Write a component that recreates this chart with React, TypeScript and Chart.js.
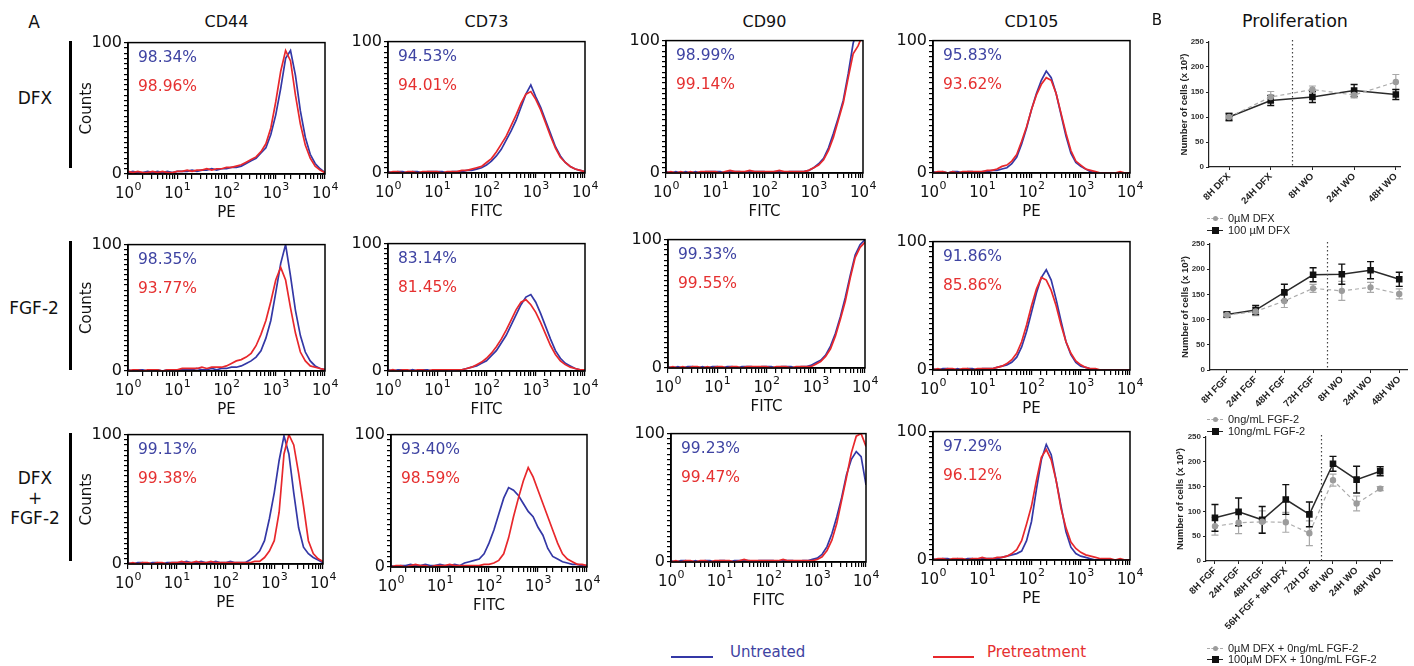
import React, { useEffect, useRef } from 'react';
import { Chart, registerables } from 'chart.js';
Chart.register(...registerables);

// ---------- DATA ----------
// log10 fluorescence bins (decades)
const BINS = [0.0, 0.1, 0.2, 0.3, 0.4, 0.5, 0.6, 0.7, 0.8, 0.9, 1.0, 1.1, 1.2, 1.3, 1.4, 1.5, 1.6, 1.7, 1.8, 1.9, 2.0, 2.1, 2.2, 2.3, 2.4, 2.5, 2.6, 2.7, 2.8, 2.9, 3.0, 3.1, 3.2, 3.3, 3.4, 3.5, 3.6, 3.7, 3.8, 3.9, 4.0];
const DECADE_EXPONENTS = ['0', '1', '2', '3', '4'];
const MARKERS = ['CD44', 'CD73', 'CD90', 'CD105'];
const CHANNELS = ['PE', 'FITC', 'FITC', 'PE'];

// Row 1: DFX  (U = untreated, P = pretreatment)
const DFX_CD44_U = [1, 2, 1, 1, 2, 1, 2, 1, 2, 1, 2, 2, 2, 3, 2, 3, 3, 4, 3, 4, 4, 5, 5, 6, 8, 10, 12, 16, 20, 30, 45, 65, 88, 94, 75, 48, 28, 15, 8, 4, 1];
const DFX_CD44_P = [2, 1, 2, 1, 1, 2, 1, 2, 1, 1, 2, 2, 3, 2, 3, 3, 4, 3, 4, 4, 5, 5, 6, 7, 9, 11, 13, 17, 23, 35, 55, 78, 94, 86, 60, 38, 22, 12, 6, 3, 1];
const DFX_CD73_U = [1, 0, 1, 1, 0, 1, 1, 0, 1, 1, 1, 1, 0, 1, 1, 1, 2, 2, 3, 4, 6, 9, 13, 18, 25, 32, 40, 50, 60, 67, 58, 50, 40, 30, 20, 13, 8, 5, 3, 2, 1];
const DFX_CD73_P = [0, 1, 1, 0, 1, 1, 0, 1, 1, 1, 1, 0, 1, 1, 1, 2, 2, 3, 4, 5, 8, 11, 16, 22, 28, 36, 44, 53, 60, 62, 56, 48, 38, 28, 19, 12, 8, 5, 3, 2, 1];
const DFX_CD90_U = [1, 0, 1, 0, 1, 0, 1, 0, 1, 1, 1, 1, 0, 1, 1, 1, 0, 1, 1, 1, 1, 0, 1, 1, 0, 1, 1, 1, 1, 2, 4, 7, 11, 19, 30, 42, 55, 75, 98, 110, 110];
const DFX_CD90_P = [0, 1, 0, 1, 0, 1, 0, 1, 1, 1, 1, 0, 1, 2, 1, 1, 1, 2, 1, 1, 1, 1, 1, 2, 1, 1, 1, 1, 1, 2, 4, 6, 10, 17, 27, 40, 53, 72, 90, 96, 105];
const DFX_CD105_U = [1, 0, 1, 0, 1, 1, 0, 1, 1, 0, 1, 1, 2, 2, 3, 4, 7, 12, 22, 34, 48, 60, 70, 77, 72, 60, 44, 28, 15, 8, 5, 3, 1, 0, 0, 0, 0, 0, 0, 0, 0];
const DFX_CD105_P = [0, 1, 1, 0, 1, 0, 1, 1, 1, 1, 1, 2, 2, 3, 5, 6, 9, 14, 24, 35, 48, 59, 67, 72, 70, 60, 45, 30, 17, 9, 6, 3, 2, 1, 0, 0, 0, 0, 1, 0, 0];

// Row 2: FGF-2
const FGF_CD44_U = [1, 0, 1, 1, 0, 1, 1, 0, 1, 1, 1, 1, 1, 1, 2, 1, 1, 2, 1, 2, 2, 3, 3, 4, 6, 8, 11, 16, 26, 40, 62, 85, 100, 75, 48, 28, 15, 8, 4, 2, 1];
const FGF_CD44_P = [0, 1, 1, 0, 1, 1, 1, 0, 1, 1, 1, 2, 2, 2, 2, 3, 2, 3, 3, 3, 4, 6, 8, 9, 11, 14, 20, 29, 40, 55, 72, 82, 72, 50, 30, 15, 8, 4, 3, 2, 1];
const FGF_CD73_U = [1, 0, 1, 1, 0, 1, 0, 1, 1, 0, 1, 1, 1, 0, 1, 1, 2, 3, 4, 6, 8, 12, 16, 22, 28, 36, 44, 52, 58, 60, 54, 45, 35, 25, 16, 10, 6, 4, 2, 1, 1];
const FGF_CD73_P = [0, 1, 0, 1, 1, 0, 1, 1, 0, 1, 1, 1, 1, 1, 1, 1, 2, 3, 5, 7, 10, 14, 19, 25, 32, 40, 48, 54, 56, 52, 46, 38, 29, 20, 13, 8, 5, 3, 2, 1, 1];
const FGF_CD90_U = [1, 0, 1, 0, 1, 1, 0, 1, 0, 1, 1, 0, 1, 1, 0, 1, 1, 1, 0, 1, 1, 1, 0, 1, 1, 1, 0, 1, 1, 2, 4, 6, 10, 17, 27, 40, 55, 72, 88, 96, 100];
const FGF_CD90_P = [0, 1, 0, 1, 0, 1, 1, 0, 1, 0, 1, 1, 0, 1, 1, 0, 1, 1, 1, 1, 1, 0, 1, 1, 1, 0, 1, 1, 1, 1, 3, 5, 9, 15, 25, 38, 52, 70, 86, 94, 98];
const FGF_CD105_U = [1, 0, 1, 1, 0, 1, 0, 1, 1, 0, 1, 1, 1, 2, 3, 4, 6, 10, 18, 30, 45, 60, 72, 78, 70, 55, 38, 22, 12, 6, 3, 2, 1, 0, 0, 0, 0, 0, 0, 0, 0];
const FGF_CD105_P = [0, 1, 0, 1, 1, 0, 1, 1, 0, 1, 1, 1, 1, 2, 3, 5, 8, 13, 22, 35, 50, 63, 72, 70, 62, 50, 35, 22, 13, 7, 4, 2, 1, 1, 0, 0, 0, 0, 0, 0, 0];

// Row 3: DFX + FGF-2
const BOTH_CD44_U = [1, 0, 1, 1, 0, 1, 1, 0, 1, 1, 1, 1, 2, 1, 1, 2, 1, 1, 2, 1, 1, 2, 1, 1, 1, 3, 6, 10, 18, 35, 55, 80, 99, 85, 55, 28, 13, 8, 5, 3, 1];
const BOTH_CD44_P = [0, 1, 0, 1, 1, 0, 1, 1, 0, 1, 1, 2, 1, 1, 2, 1, 1, 2, 1, 1, 1, 1, 1, 1, 1, 1, 2, 2, 5, 10, 18, 40, 85, 100, 92, 70, 45, 18, 8, 4, 2];
const BOTH_CD73_U = [1, 0, 1, 1, 2, 1, 1, 2, 1, 1, 2, 1, 1, 2, 1, 3, 4, 5, 6, 10, 18, 28, 40, 52, 60, 58, 54, 48, 42, 38, 30, 24, 14, 8, 6, 4, 3, 2, 2, 1, 1];
const BOTH_CD73_P = [0, 1, 1, 0, 1, 2, 1, 1, 0, 1, 1, 1, 2, 1, 1, 1, 1, 1, 1, 2, 2, 3, 5, 10, 22, 38, 52, 65, 75, 68, 58, 48, 38, 28, 18, 10, 6, 4, 2, 2, 1];
const BOTH_CD90_U = [1, 0, 1, 1, 0, 1, 0, 1, 1, 0, 1, 1, 0, 1, 1, 1, 1, 0, 1, 1, 1, 1, 0, 1, 1, 1, 0, 1, 1, 2, 3, 6, 12, 22, 35, 50, 68, 80, 86, 82, 60];
const BOTH_CD90_P = [0, 1, 0, 1, 1, 0, 1, 1, 0, 1, 1, 1, 1, 0, 1, 2, 1, 1, 1, 1, 1, 1, 1, 2, 1, 1, 1, 1, 1, 1, 2, 4, 9, 17, 30, 48, 66, 85, 98, 100, 90];
const BOTH_CD105_U = [1, 0, 1, 1, 0, 1, 0, 1, 1, 0, 1, 1, 1, 1, 2, 3, 4, 5, 7, 15, 30, 55, 78, 90, 82, 62, 42, 22, 10, 5, 3, 2, 1, 0, 0, 0, 0, 0, 0, 0, 0];
const BOTH_CD105_P = [0, 1, 1, 0, 1, 1, 1, 0, 1, 1, 2, 1, 1, 2, 2, 3, 5, 8, 15, 28, 42, 62, 80, 86, 78, 62, 40, 25, 14, 9, 6, 4, 3, 2, 1, 1, 1, 0, 1, 0, 0];

const PCT_DFX_U = ['98.34%', '94.53%', '98.99%', '95.83%'];
const PCT_DFX_P = ['98.96%', '94.01%', '99.14%', '93.62%'];
const PCT_FGF_U = ['98.35%', '83.14%', '99.33%', '91.86%'];
const PCT_FGF_P = ['93.77%', '81.45%', '99.55%', '85.86%'];
const PCT_BOTH_U = ['99.13%', '93.40%', '99.23%', '97.29%'];
const PCT_BOTH_P = ['99.38%', '98.59%', '99.47%', '96.12%'];

// Proliferation (B)
const P1_CATS = ['8H DFX', '24H DFX', '8H WO', '24H WO', '48H WO'];
const P1_CTRL = [100, 140, 155, 144, 170];
const P1_CTRL_ERR = [8, 11, 7, 6, 15];
const P1_TREAT = [100, 133, 140, 153, 145];
const P1_TREAT_ERR = [7, 10, 11, 12, 10];

const P2_CATS = ['8H FGF', '24H FGF', '48H FGF', '72H FGF', '8H WO', '24H WO', '48H WO'];
const P2_CTRL = [109, 116, 137, 162, 157, 164, 151];
const P2_CTRL_ERR = [5, 8, 13, 8, 19, 10, 10];
const P2_TREAT = [110, 119, 154, 189, 190, 198, 180];
const P2_TREAT_ERR = [5, 9, 16, 14, 20, 17, 14];

const P3_CATS = ['8H FGF', '24H FGF', '48H FGF', '56H FGF + 8H DFX', '72H DF', '8H WO', '24H WO', '48H WO'];
const P3_CTRL = [70, 77, 79, 78, 56, 163, 116, 146];
const P3_CTRL_ERR = [18, 22, 22, 20, 25, 12, 15, 4];
const P3_TREAT = [87, 99, 83, 124, 94, 196, 164, 181];
const P3_TREAT_ERR = [27, 28, 27, 30, 25, 15, 27, 9];

// ---------- STYLE ----------
const FONT = '"DejaVu Sans", Verdana, sans-serif';
const AFONT = '"Liberation Sans", Arial, sans-serif';
const BLUE = '#3438a6';
const RED = '#e8282c';
const BLUE_TXT = '#3e43a2';
const RED_TXT = '#e53030';

// panel boxes [left, top, right, bottom] per row/column
const ROW_BOXES = [
  [[128, 41, 325, 174], [388, 40, 585, 173], [666, 39, 863, 173], [933, 39, 1130, 173]],
  [[128, 243, 325, 371], [388, 242, 585, 371], [668, 238, 865, 368], [933, 240, 1130, 370]],
  [[128, 433, 323, 564], [391, 433, 587, 567], [671, 432, 866, 562], [933, 430, 1130, 560]],
];

const framePlugin = {
  id: 'frame',
  afterDraw(chart: any) {
    const { ctx, chartArea: a, scales } = chart;
    ctx.save();
    ctx.strokeStyle = '#000';
    ctx.lineWidth = 1.5;
    ctx.strokeRect(a.left, a.top, a.right - a.left, a.bottom - a.top);
    // decade labels: "10" with a raised exponent
    const x = scales.x;
    ctx.fillStyle = '#111';
    ctx.textBaseline = 'middle';
    DECADE_EXPONENTS.forEach((ex, i) => {
      const px = x.getPixelForValue(Math.pow(10, i));
      ctx.font = `15px ${FONT}`;
      const w1 = ctx.measureText('10').width;
      ctx.font = `11px ${FONT}`;
      const w2 = ctx.measureText(ex).width;
      const start = px - (w1 + w2) / 2;
      const cy = a.bottom + 20;
      ctx.font = `15px ${FONT}`;
      ctx.textAlign = 'left';
      ctx.fillText('10', start, cy);
      ctx.font = `11px ${FONT}`;
      ctx.fillText(ex, start + w1 + 0.5, cy - 7);
    });
    ctx.restore();
  },
};

function Histo({ box, u, p, xTitle, showY }: any) {
  const ref = useRef<HTMLCanvasElement>(null);
  const [l, t, r, b] = box;
  const YW = 54, PT = 10, XH = 52, PR = 18;
  const W = r - l + YW + PR;
  const H = b - t + PT + XH;
  useEffect(() => {
    const pts = (arr: number[]) => BINS.map((d, i) => ({ x: Math.pow(10, d), y: arr[i] }));
    const chart = new Chart(ref.current as HTMLCanvasElement, {
      type: 'line',
      data: {
        datasets: [
          { data: pts(p), borderColor: RED, borderWidth: 1.7, pointRadius: 0, tension: 0, fill: false },
          { data: pts(u), borderColor: BLUE, borderWidth: 1.7, pointRadius: 0, tension: 0, fill: false },
        ],
      },
      options: {
        responsive: false,
        animation: false,
        events: [],
        layout: { padding: { top: PT, right: PR, left: 0, bottom: 0 } },
        plugins: { legend: { display: false }, tooltip: { enabled: false } },
        scales: {
          x: {
            type: 'logarithmic',
            min: 1,
            max: 10000,
            afterFit: (s: any) => { s.height = XH; },
            grid: { drawOnChartArea: false, drawTicks: true, tickLength: 5, color: '#000', lineWidth: 1.2 },
            border: { display: true, color: '#000', width: 1.5 },
            ticks: {
              autoSkip: false, maxRotation: 0, minRotation: 0, padding: 5, color: '#111',
              font: { family: FONT, size: 15 },
              callback: () => '',
            },
            title: { display: true, text: xTitle, color: '#111', font: { family: FONT, size: 15 }, padding: { top: 0, bottom: 4 } },
          },
          y: {
            min: 0,
            max: 100,
            afterFit: (s: any) => { s.width = YW; },
            grid: { drawOnChartArea: false, drawTicks: true, tickLength: 4, color: '#000', lineWidth: 1.2 },
            border: { display: true, color: '#000', width: 1.5 },
            ticks: {
              stepSize: 4, autoSkip: false, padding: 2, color: '#111',
              font: { family: FONT, size: 16 },
              callback: (v: any) => (v === 0 || v === 100 ? String(v) : ''),
            },
            title: { display: !!showY, text: 'Counts', color: '#111', font: { family: FONT, size: 15 }, padding: { top: 4, bottom: 0 } },
          },
        },
      } as any,
      plugins: [framePlugin],
    } as any);
    return () => chart.destroy();
  }, []);
  return (
    <canvas ref={ref} width={W} height={H}
      style={{ position: 'absolute', left: l - YW, top: t - PT, width: W, height: H }} />
  );
}

const errorBarPlugin = {
  id: 'errbars',
  beforeDatasetsDraw(chart: any) {
    const { ctx, scales } = chart;
    const x = scales.x, y = scales.y;
    chart.data.datasets.forEach((ds: any) => {
      if (!ds.errors) return;
      ctx.save();
      ctx.strokeStyle = ds.errColor;
      ctx.lineWidth = ds.errWidth;
      ds.data.forEach((pt: any, i: number) => {
        const px = x.getPixelForValue(pt.x);
        const top = y.getPixelForValue(pt.y + ds.errors[i]);
        const bot = y.getPixelForValue(pt.y - ds.errors[i]);
        ctx.beginPath();
        ctx.moveTo(px, top); ctx.lineTo(px, bot);
        ctx.moveTo(px - 3.5, top); ctx.lineTo(px + 3.5, top);
        ctx.moveTo(px - 3.5, bot); ctx.lineTo(px + 3.5, bot);
        ctx.stroke();
      });
      ctx.restore();
    });
  },
};

const dividerPlugin = {
  id: 'divider',
  afterDraw(chart: any, _a: any, opts: any) {
    if (opts == null || opts.at == null) return;
    const { ctx, chartArea: a, scales } = chart;
    const px = Math.round(scales.x.getPixelForValue(opts.at)) + 0.5;
    ctx.save();
    ctx.strokeStyle = '#444';
    ctx.lineWidth = 1.2;
    ctx.setLineDash([1.5, 2.5]);
    ctx.beginPath();
    ctx.moveTo(px, a.top - 2);
    ctx.lineTo(px, a.bottom);
    ctx.stroke();
    ctx.restore();
  },
};

function Prolif({ cats, ctrl, ctrlErr, treat, treatErr, divider, axL, yTop, yBot, axR, xmin, xmax, canvasL, XH }: any) {
  const ref = useRef<HTMLCanvasElement>(null);
  const YW = axL - canvasL, PT = 8, PR = 7;
  const W = axR - canvasL + PR;
  const H = PT + (yBot - yTop) + XH;
  useEffect(() => {
    const chart = new Chart(ref.current as HTMLCanvasElement, {
      type: 'line',
      data: {
        datasets: [
          {
            data: ctrl.map((v: number, i: number) => ({ x: i, y: v })), errors: ctrlErr,
            errColor: '#a9a9a9', errWidth: 1.2,
            borderColor: '#acacac', borderWidth: 1.2, borderDash: [4, 3],
            pointStyle: 'circle', pointRadius: 2.6, pointBackgroundColor: '#9c9c9c', pointBorderColor: '#9c9c9c',
          },
          {
            data: treat.map((v: number, i: number) => ({ x: i, y: v })), errors: treatErr,
            errColor: '#111', errWidth: 1.4,
            borderColor: '#2a2a2a', borderWidth: 1.5,
            pointStyle: 'rect', pointRadius: 3.6, pointBackgroundColor: '#111', pointBorderColor: '#111',
          },
        ],
      },
      options: {
        responsive: false,
        animation: false,
        events: [],
        layout: { padding: { top: PT, right: PR, left: 0, bottom: 0 } },
        plugins: { legend: { display: false }, tooltip: { enabled: false }, divider: { at: divider } },
        scales: {
          x: {
            type: 'linear', min: xmin, max: xmax,
            afterFit: (s: any) => { s.height = XH; },
            afterBuildTicks: (s: any) => { s.ticks = cats.map((_: any, i: number) => ({ value: i })); },
            grid: { drawOnChartArea: false, tickLength: 3, color: '#222', lineWidth: 1 },
            border: { display: true, color: '#222', width: 1.2 },
            ticks: {
              autoSkip: false, minRotation: 45, maxRotation: 45, padding: 1, color: '#222',
              font: { family: AFONT, size: 9.5, weight: 'bold' },
              callback: (v: any) => cats[v] ?? '',
            },
          },
          y: {
            min: 0, max: 250,
            afterFit: (s: any) => { s.width = YW; },
            grid: { drawOnChartArea: false, tickLength: 3, color: '#222', lineWidth: 1 },
            border: { display: true, color: '#222', width: 1.2 },
            ticks: { stepSize: 50, padding: 2, color: '#333', font: { family: AFONT, size: 8, weight: 'bold' } },
            title: {
              display: true, text: 'Number of cells (x 10³)', color: '#222',
              font: { family: AFONT, size: 9.5, weight: 'bold' }, padding: { top: 4, bottom: 2 },
            },
          },
        },
      } as any,
      plugins: [errorBarPlugin, dividerPlugin],
    } as any);
    return () => chart.destroy();
  }, []);
  return (
    <canvas ref={ref} width={W} height={H}
      style={{ position: 'absolute', left: canvasL, top: yTop - PT, width: W, height: H }} />
  );
}

function Txt({ x, y, size, color, children, align, font, weight }: any) {
  const tx = align === 'left' ? '0' : '-50%';
  return (
    <div style={{
      position: 'absolute', left: x, top: y, transform: `translate(${tx}, -50%)`,
      fontFamily: font || FONT, fontSize: size, color: color || '#111', whiteSpace: 'nowrap',
      lineHeight: 1.1, fontWeight: weight || 'normal',
    }}>{children}</div>
  );
}

function LegendItem({ y, text, kind }: any) {
  const dark = kind === 'black';
  return (
    <>
      <div style={{
        position: 'absolute', left: 1207, top: y - 0.5, width: 16, height: 0,
        borderTop: dark ? '1.5px solid #222' : '1.2px dashed #aaa',
      }} />
      <div style={{
        position: 'absolute', left: dark ? 1211.5 : 1212.5, top: dark ? y - 3.5 : y - 2.5,
        width: dark ? 7 : 5, height: dark ? 7 : 5, background: dark ? '#111' : '#9c9c9c',
        borderRadius: dark ? 0 : '50%',
      }} />
      <Txt x={1228} y={y} size={11} align="left" font={AFONT} color="#222">{text}</Txt>
    </>
  );
}

export default function App() {
  const rows = [
    { u: [DFX_CD44_U, DFX_CD73_U, DFX_CD90_U, DFX_CD105_U], p: [DFX_CD44_P, DFX_CD73_P, DFX_CD90_P, DFX_CD105_P], pu: PCT_DFX_U, pp: PCT_DFX_P },
    { u: [FGF_CD44_U, FGF_CD73_U, FGF_CD90_U, FGF_CD105_U], p: [FGF_CD44_P, FGF_CD73_P, FGF_CD90_P, FGF_CD105_P], pu: PCT_FGF_U, pp: PCT_FGF_P },
    { u: [BOTH_CD44_U, BOTH_CD73_U, BOTH_CD90_U, BOTH_CD105_U], p: [BOTH_CD44_P, BOTH_CD73_P, BOTH_CD90_P, BOTH_CD105_P], pu: PCT_BOTH_U, pp: PCT_BOTH_P },
  ];
  const bars = [[41, 168], [241, 370], [433, 561]];
  return (
    <div style={{ position: 'absolute', left: 0, top: 0, width: 1414, height: 666, background: '#fff', overflow: 'hidden' }}>
      <Txt x={34} y={22} size={17}>A</Txt>
      {MARKERS.map((m, c) => (
        <Txt key={m} x={(ROW_BOXES[0][c][0] + ROW_BOXES[0][c][2]) / 2} y={22} size={16}>{m}</Txt>
      ))}
      <Txt x={35} y={98} size={17}>DFX</Txt>
      <Txt x={34} y={308} size={17}>FGF-2</Txt>
      <Txt x={35} y={478} size={17}>DFX</Txt>
      <Txt x={35} y={498} size={17}>+</Txt>
      <Txt x={35} y={518} size={17}>FGF-2</Txt>
      {bars.map(([a, b], i) => (
        <div key={i} style={{ position: 'absolute', left: 69, top: a, width: 3, height: b - a, background: '#000' }} />
      ))}
      {rows.map((row, r) =>
        MARKERS.map((m, c) => {
          const box = ROW_BOXES[r][c];
          return (
            <React.Fragment key={`${r}-${c}`}>
              <Histo box={box} u={row.u[c]} p={row.p[c]} xTitle={CHANNELS[c]} showY={c === 0} />
              <Txt x={box[0] + 10} y={box[1] + 17} size={15.5} align="left" color={BLUE_TXT}>{row.pu[c]}</Txt>
              <Txt x={box[0] + 10} y={box[1] + 46} size={15.5} align="left" color={RED_TXT}>{row.pp[c]}</Txt>
            </React.Fragment>
          );
        })
      )}

      <div style={{ position: 'absolute', left: 671, top: 656, width: 42, height: 2, background: BLUE }} />
      <Txt x={730} y={652} size={15} align="left" color={BLUE_TXT}>Untreated</Txt>
      <div style={{ position: 'absolute', left: 933, top: 656, width: 41, height: 2, background: RED }} />
      <Txt x={987} y={652} size={15} align="left" color={RED_TXT}>Pretreatment</Txt>

      <Txt x={1157} y={20} size={15}>B</Txt>
      <Txt x={1295} y={22} size={17.5}>Proliferation</Txt>

      <Prolif cats={P1_CATS} ctrl={P1_CTRL} ctrlErr={P1_CTRL_ERR} treat={P1_TREAT} treatErr={P1_TREAT_ERR}
        divider={1.5} axL={1209} yTop={42} yBot={167} axR={1400} xmin={-0.48} xmax={4.1} canvasL={1175} XH={45} />
      <LegendItem y={218} text="0µM DFX" kind="gray" />
      <LegendItem y={230} text="100 µM DFX" kind="black" />

      <Prolif cats={P2_CATS} ctrl={P2_CTRL} ctrlErr={P2_CTRL_ERR} treat={P2_TREAT} treatErr={P2_TREAT_ERR}
        divider={3.5} axL={1210} yTop={244} yBot={370} axR={1407} xmin={-0.59} xmax={6.27} canvasL={1176} XH={48} />
      <LegendItem y={419} text="0ng/mL FGF-2" kind="gray" />
      <LegendItem y={431} text="10ng/mL FGF-2" kind="black" />

      <Prolif cats={P3_CATS} ctrl={P3_CTRL} ctrlErr={P3_CTRL_ERR} treat={P3_TREAT} treatErr={P3_TREAT_ERR}
        divider={4.5} axL={1206} yTop={437} yBot={561} axR={1392} xmin={-0.38} xmax={7.5} canvasL={1171} XH={70} />
      <LegendItem y={648} text="0µM DFX + 0ng/mL FGF-2" kind="gray" />
      <LegendItem y={659} text="100µM DFX + 10ng/mL FGF-2" kind="black" />
    </div>
  );
}
